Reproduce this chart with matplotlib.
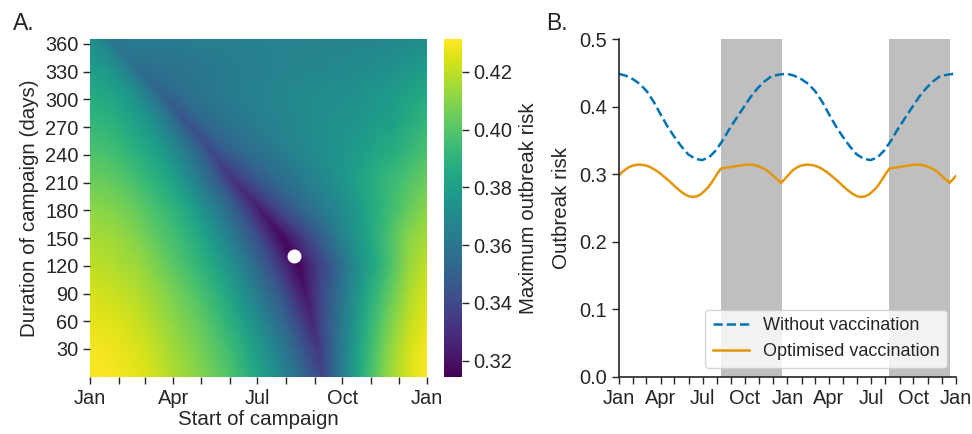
import numpy as np
import matplotlib
matplotlib.use("Agg")
import matplotlib.pyplot as plt

plt.rcParams['font.family'] = ['Liberation Sans', 'DejaVu Sans']
plt.rcParams['text.color'] = '#262626'
plt.rcParams['axes.labelcolor'] = '#262626'
plt.rcParams['xtick.color'] = '#262626'
plt.rcParams['ytick.color'] = '#262626'

# month starts (day of year) and labels
month_days = [0, 31, 59, 90, 120, 151, 181, 212, 243, 273, 304, 334]
quarter_labels = {0: 'Jan', 90: 'Apr', 181: 'Jul', 273: 'Oct'}

# panel A: maximum outbreak risk
# each row is one campaign duration; the columns run from Jan 1 to the start day
# of lowest risk (valley) and then from the valley to the next Jan 1
durations = np.linspace(0, 365, 13)
valley_start = [251, 247, 240, 233, 225, 207, 183, 155, 132, 106, 80, 49, 20]
left_frac = [0, 0.12, 0.24, 0.36, 0.48, 0.6, 0.7, 0.8, 0.88, 0.94, 1.0]
right_frac = [0.06, 0.14, 0.24, 0.36, 0.48, 0.6, 0.72, 0.86, 1.0]
risk_grid = np.array([
    [0.431, 0.429, 0.425, 0.417, 0.409, 0.399, 0.386, 0.372, 0.360, 0.349, 0.338,
     0.346, 0.358, 0.370, 0.385, 0.398, 0.410, 0.418, 0.426, 0.431],
    [0.430, 0.428, 0.423, 0.415, 0.407, 0.396, 0.383, 0.369, 0.356, 0.344, 0.333,
     0.342, 0.353, 0.366, 0.381, 0.394, 0.407, 0.416, 0.425, 0.430],
    [0.427, 0.425, 0.420, 0.412, 0.404, 0.392, 0.379, 0.364, 0.351, 0.339, 0.327,
     0.336, 0.347, 0.359, 0.374, 0.388, 0.400, 0.411, 0.421, 0.427],
    [0.424, 0.421, 0.417, 0.409, 0.400, 0.388, 0.375, 0.359, 0.346, 0.333, 0.321,
     0.330, 0.341, 0.352, 0.367, 0.381, 0.393, 0.405, 0.417, 0.424],
    [0.420, 0.417, 0.413, 0.404, 0.395, 0.383, 0.370, 0.354, 0.340, 0.327, 0.315,
     0.323, 0.334, 0.345, 0.360, 0.374, 0.385, 0.398, 0.413, 0.420],
    [0.416, 0.414, 0.409, 0.401, 0.393, 0.381, 0.369, 0.354, 0.341, 0.328, 0.317,
     0.325, 0.335, 0.346, 0.360, 0.372, 0.383, 0.395, 0.409, 0.416],
    [0.411, 0.409, 0.405, 0.398, 0.391, 0.381, 0.369, 0.356, 0.345, 0.334, 0.324,
     0.333, 0.343, 0.352, 0.361, 0.369, 0.379, 0.389, 0.401, 0.411],
    [0.405, 0.403, 0.400, 0.394, 0.388, 0.380, 0.370, 0.359, 0.350, 0.340, 0.332,
     0.339, 0.348, 0.355, 0.363, 0.370, 0.378, 0.387, 0.396, 0.405],
    [0.398, 0.397, 0.394, 0.389, 0.384, 0.378, 0.370, 0.361, 0.354, 0.347, 0.340,
     0.348, 0.354, 0.360, 0.366, 0.371, 0.375, 0.381, 0.388, 0.398],
    [0.392, 0.391, 0.389, 0.385, 0.381, 0.376, 0.369, 0.362, 0.356, 0.350, 0.345,
     0.352, 0.358, 0.362, 0.366, 0.370, 0.373, 0.376, 0.381, 0.392],
    [0.386, 0.385, 0.384, 0.381, 0.378, 0.373, 0.369, 0.363, 0.359, 0.354, 0.350,
     0.355, 0.360, 0.363, 0.366, 0.369, 0.371, 0.373, 0.378, 0.386],
    [0.379, 0.378, 0.377, 0.376, 0.374, 0.371, 0.368, 0.365, 0.362, 0.359, 0.356,
     0.358, 0.359, 0.361, 0.364, 0.366, 0.368, 0.369, 0.372, 0.379],
    [0.371, 0.371, 0.370, 0.370, 0.369, 0.368, 0.367, 0.365, 0.364, 0.363, 0.362,
     0.363, 0.363, 0.364, 0.365, 0.366, 0.366, 0.367, 0.368, 0.371],
])
best_start = 221
best_duration = 131
risk_min, risk_max = 0.3145, 0.4312
cbar_ticks = [0.32, 0.34, 0.36, 0.38, 0.40, 0.42]
duration_ticks = [30, 60, 90, 120, 150, 180, 210, 240, 270, 300, 330, 360]

# panel B: outbreak risk over one year (repeated for the second year)
blue_days = [0, 15, 30, 45, 60, 75, 90, 105, 120, 135, 150, 165, 180, 195, 210,
             225, 240, 255, 270, 285, 300, 315, 330, 345, 360, 365]
blue_risk = [0.4488, 0.446, 0.441, 0.434, 0.4232, 0.4077, 0.389, 0.371, 0.3555,
             0.3414, 0.3295, 0.323, 0.321, 0.325, 0.3355, 0.3505, 0.368, 0.3837,
             0.3991, 0.4145, 0.4272, 0.4375, 0.4451, 0.4475, 0.4488, 0.4488]
orange_days = [0, 10, 20, 30, 43, 55, 65, 75, 85, 95, 107, 118, 129, 140, 150, 159,
               168, 176, 185, 194, 202, 209, 215, 221, 232, 244, 255, 266, 276, 284,
               293, 302, 311, 320, 329, 338, 345, 351, 357, 365]
orange_risk = [0.2985, 0.305, 0.310, 0.313, 0.3144, 0.3135, 0.3115, 0.3078, 0.3035,
               0.298, 0.2911, 0.284, 0.2773, 0.2715, 0.2677, 0.2663, 0.2672, 0.2698,
               0.275, 0.2812, 0.289, 0.2965, 0.303, 0.3085, 0.3098, 0.3109, 0.3122,
               0.3134, 0.3142, 0.3144, 0.3135, 0.3119, 0.3093, 0.306, 0.301, 0.2951,
               0.291, 0.2871, 0.2915, 0.2975]
campaign_start = 221
campaign_end = 353

blue_x = np.concatenate([blue_days, np.array(blue_days[1:]) + 365])
blue_y = np.concatenate([blue_risk, blue_risk[1:]])
orange_x = np.concatenate([orange_days, np.array(orange_days[1:]) + 365])
orange_y = np.concatenate([orange_risk, orange_risk[1:]])

# node positions of the heat map mesh
X = np.array([np.concatenate([sv * np.array(left_frac),
                              sv + (365 - sv) * np.array(right_frac)])
              for sv in valley_start])
Y = np.repeat(durations[:, None], X.shape[1], axis=1)

fig = plt.figure(figsize=(9.72, 4.34), dpi=100)
ax1 = fig.add_axes([0.0929, 0.132, 0.3467, 0.7774])
cax = fig.add_axes([0.4568, 0.132, 0.0182, 0.7774])
ax2 = fig.add_axes([0.6368, 0.132, 0.3467, 0.7774])

mesh = ax1.pcolormesh(X, Y, risk_grid, shading='gouraud', cmap='viridis',
                      vmin=risk_min, vmax=risk_max, rasterized=True)
ax1.plot(best_start, best_duration, 'o', color='white', ms=9, mec='white')
ax1.set_xlim(0, 365)
ax1.set_ylim(0, 365)
for sp in ax1.spines.values():
    sp.set_visible(False)
ax1.set_xticks(month_days + [365])
ax1.set_xticklabels([quarter_labels.get(d, '') for d in month_days] + ['Jan'])
ax1.set_yticks(duration_ticks)
ax1.set_xlabel('Start of campaign', fontsize=14.8, labelpad=2)
ax1.set_ylabel('Duration of campaign (days)', fontsize=14.8, labelpad=4)
ax1.tick_params(labelsize=14.4, length=5, width=1)

cb = fig.colorbar(mesh, cax=cax, ticks=cbar_ticks)
cb.outline.set_visible(False)
cb.ax.set_yticklabels(['%.2f' % t for t in cbar_ticks])
cb.ax.tick_params(labelsize=14.4, length=5, width=1)
cb.set_label('Maximum outbreak risk', fontsize=14.8, labelpad=5)

for k in range(2):
    ax2.axvspan(campaign_start + 365 * k, campaign_end + 365 * k, color='#bfbfbf',
                lw=0, zorder=0)
ax2.plot(blue_x, blue_y, '--', color='#0173b2', lw=1.8, label='Without vaccination')
ax2.plot(orange_x, orange_y, '-', color='#e3960a', lw=1.8, label='Optimised vaccination')
ax2.set_xlim(0, 730)
ax2.set_ylim(0, 0.5)
ax2.set_xticks(month_days + [d + 365 for d in month_days] + [730])
ax2.set_xticklabels([quarter_labels.get(d, '') for d in month_days] * 2 + ['Jan'])
ax2.set_yticks([0, 0.1, 0.2, 0.3, 0.4, 0.5])
ax2.set_yticklabels(['0.0', '0.1', '0.2', '0.3', '0.4', '0.5'])
ax2.set_ylabel('Outbreak risk', fontsize=14.8, labelpad=6)
ax2.tick_params(labelsize=14.4, length=5, width=1)
ax2.spines['top'].set_visible(False)
ax2.spines['right'].set_visible(False)
for s in ['left', 'bottom']:
    ax2.spines[s].set_linewidth(1.2)
    ax2.spines[s].set_color('#262626')
ax2.legend(loc='lower right', fontsize=13, framealpha=0.8, edgecolor='#cccccc')

fig.text(0.013, 0.93, 'A.', fontsize=16.5)
fig.text(0.562, 0.93, 'B.', fontsize=16.5)

fig.savefig('out.png', dpi=100)
